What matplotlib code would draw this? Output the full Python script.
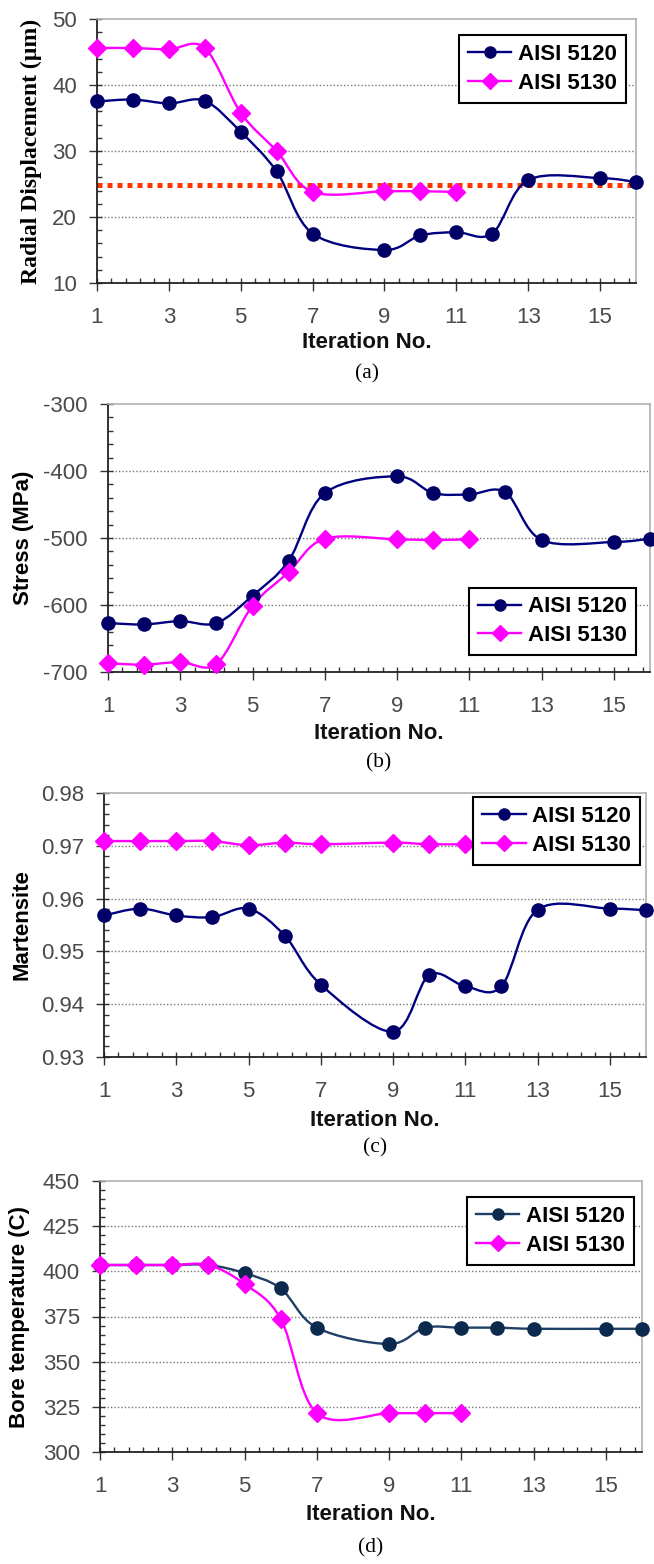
import numpy as np
import matplotlib
matplotlib.use('Agg')
import matplotlib.pyplot as plt
from matplotlib.path import Path
from matplotlib.patches import PathPatch
from matplotlib.lines import Line2D
from matplotlib.ticker import MultipleLocator, FixedLocator, FormatStrFormatter

plt.rcParams['font.family'] = ['Liberation Sans', 'DejaVu Sans']
plt.rcParams['axes.unicode_minus'] = False

# iteration numbers (no results stored at 8 and 14)
it_5120 = [1, 2, 3, 4, 5, 6, 7, 9, 10, 11, 12, 13, 15, 16]
it_5130 = [1, 2, 3, 4, 5, 6, 7, 9, 10, 11]

# (a) radial displacement, um
disp_5120 = [37.5, 37.8, 37.2, 37.6, 32.9, 26.9, 17.5, 15.0, 17.2, 17.7, 17.5, 25.6, 25.9, 25.3]
disp_5130 = [45.6, 45.6, 45.4, 45.6, 35.8, 30.0, 23.8, 23.9, 23.9, 23.8]
disp_limit = 24.8

# (b) stress, MPa
stress_5120 = [-627, -629, -624, -627, -586, -534, -433, -408, -433, -435, -432, -503, -506, -501]
stress_5130 = [-687, -689, -685, -688, -601, -551, -501, -502, -503, -502]

# (c) martensite fraction
mart_5120 = [0.9568, 0.9581, 0.9568, 0.9565, 0.9581, 0.9530, 0.9437, 0.9348, 0.9455, 0.9434, 0.9434, 0.9579, 0.9581, 0.9578]
mart_5130 = [0.9709, 0.9709, 0.9709, 0.9709, 0.9701, 0.9706, 0.9703, 0.9706, 0.9703, 0.9703]

# (d) bore temperature, C
temp_5120 = [403.5, 403.5, 403.5, 403.5, 399.0, 390.5, 368.8, 359.8, 368.8, 368.8, 368.8, 368.2, 368.2, 368.2]
temp_5130 = [403.5, 403.5, 403.5, 403.5, 393.0, 373.8, 321.5, 321.5, 321.5, 321.5]

NAVY = '#000080'
MAGENTA = '#FF00FF'
TICK_COL = '#4a4a4a'
W, H = 654, 1564


def smooth_path(x, y):
    # excel style smoothed line: cubic bezier through every point
    pts = np.column_stack([x, y]).astype(float)
    n = len(pts)
    verts = [pts[0]]
    codes = [Path.MOVETO]
    for i in range(n - 1):
        p0 = pts[i - 1] if i > 0 else pts[i]
        p1 = pts[i]
        p2 = pts[i + 1]
        p3 = pts[i + 2] if i + 2 < n else pts[i + 1]
        verts += [p1 + (p2 - p0) / 6, p2 - (p3 - p1) / 6, p2]
        codes += [Path.CURVE4] * 3
    return Path(verts, codes)


def panel(box, y1, y2, ylim, ystep, yminor, ylabel, ylab_x, tag, tag_off, leg_loc, leg_anchor,
          c5120=NAVY, m5120='#000066', yfmt=None, serif_label=False, it_off=61):
    l, r, t, b = box
    ax = fig.add_axes([l / W, 1 - b / H, (r - l) / W, (b - t) / H])
    for xs, ys, col, mcol, mk, ms in [(it_5120, y1, c5120, m5120, 'o', 9.5),
                                      (it_5130, y2, MAGENTA, MAGENTA, 'D', 9)]:
        ax.add_patch(PathPatch(smooth_path(xs, ys), fill=False, ec=col, lw=1.7, zorder=3))
        ax.plot(xs, ys, ls='none', marker=mk, ms=ms, mfc=mcol, mec=mcol, zorder=4, clip_on=False)
    ax.set_xlim(1, 16)
    ax.set_ylim(*ylim)
    ax.xaxis.set_major_locator(FixedLocator(range(1, 17, 2)))
    ax.xaxis.set_minor_locator(FixedLocator(np.arange(1, 16.01, 0.4)))
    ax.yaxis.set_major_locator(MultipleLocator(ystep))
    ax.yaxis.set_minor_locator(MultipleLocator(yminor))
    ax.xaxis.remove_overlapping_locs = False
    ax.yaxis.remove_overlapping_locs = False
    if yfmt:
        ax.yaxis.set_major_formatter(yfmt)
    ax.tick_params(which='major', direction='out', length=5.5, width=1, color='#333333',
                   labelsize=16, labelcolor=TICK_COL)
    ax.tick_params(which='minor', direction='in', length=3.5, width=1, color='#333333')
    ax.tick_params(axis='x', which='major', pad=12)
    ax.tick_params(axis='y', which='major', pad=9)
    ax.tick_params(top=False, right=False, which='both')
    for yv in np.arange(ylim[0] + ystep, ylim[1] - ystep / 2, ystep):
        ax.axhline(yv, color='#777777', lw=1, ls=(0, (1, 1.5)), zorder=1)
    for s in ['left', 'bottom']:
        ax.spines[s].set_color('#222222')
        ax.spines[s].set_linewidth(1.3)
    for s in ['top', 'right']:
        ax.spines[s].set_color('#b0b0b0')
        ax.spines[s].set_linewidth(1.2)
    if serif_label:
        fig.text(ylab_x / W, 1 - (t + b) / 2 / H, ylabel, rotation=90, ha='center', va='center',
                 fontsize=17, fontweight='bold', family=['Liberation Serif', 'DejaVu Serif'])
    else:
        fig.text(ylab_x / W, 1 - (t + b) / 2 / H, ylabel, rotation=90, ha='center', va='center',
                 fontsize=16, fontweight='bold')
    ax.annotate('Iteration No.', xy=(0.5, 0), xycoords='axes fraction', xytext=(0, -it_off * 0.72),
                textcoords='offset points', ha='center', va='center',
                fontsize=16, fontweight='bold', color='#111111')
    ax.annotate(tag, xy=(0.5, 0), xycoords='axes fraction', xytext=(0, -tag_off * 0.72),
                textcoords='offset points', ha='center', va='center',
                fontsize=15.5, family=['Liberation Serif', 'DejaVu Serif'])
    handles = [Line2D([], [], color=c5120, lw=1.7, marker='o', ms=8, mfc=m5120, mec=m5120),
               Line2D([], [], color=MAGENTA, lw=1.7, marker='D', ms=8, mfc=MAGENTA, mec=MAGENTA)]
    leg = ax.legend(handles, ['AISI 5120', 'AISI 5130'], loc=leg_loc, bbox_to_anchor=leg_anchor,
                    borderaxespad=0, fancybox=False, framealpha=1, edgecolor='black',
                    prop={'size': 16, 'weight': 'bold'}, handlelength=1.95,
                    handletextpad=0.3, borderpad=0.4, labelspacing=0.35)
    leg.get_frame().set_linewidth(1.5)
    leg.set_zorder(5)
    return ax


fig = plt.figure(figsize=(W / 100, H / 100), dpi=100)

ax_a = panel((97, 636, 19, 283), disp_5120, disp_5130, (10, 50), 10, 2,
             'Radial Displacement (\u00b5m)', 31, '(a)', 91, 'upper right', (0.981, 0.939),
             serif_label=True, it_off=60)
ax_a.axhline(disp_limit, color='#FF3300', lw=3.6, ls=(0, (1, 1)), zorder=2)

panel((108, 650, 404, 672), stress_5120, stress_5130, (-700, -300), 100, 20,
      'Stress (MPa)', 24, '(b)', 91, 'lower right', (0.974, 0.063))

panel((104, 646, 793, 1057), mart_5120, mart_5130, (0.93, 0.98), 0.01, 0.002,
      'Martensite', 22, '(c)', 91, 'upper right', (0.989, 0.985),
      yfmt=FormatStrFormatter('%.2f'), it_off=63)

panel((100, 642, 1181, 1452), temp_5120, temp_5130, (300, 450), 25, 5,
      'Bore temperature (C)', 20, '(d)', 96, 'upper right', (0.985, 0.941),
      c5120='#1F3F66', m5120='#0B2A4E', it_off=63)

fig.savefig('out.png', dpi=100)
